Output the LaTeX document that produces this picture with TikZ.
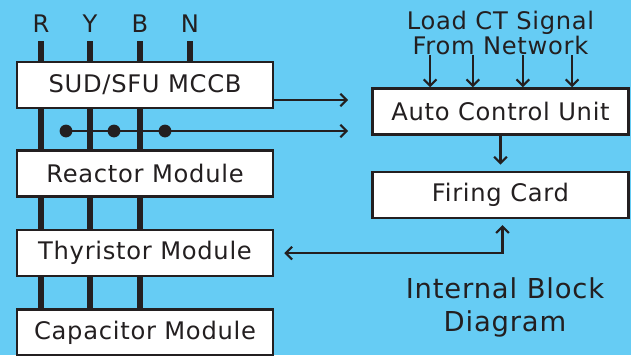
\documentclass[tikz,border=0pt]{standalone}
\usepackage{fontspec}
\setmainfont[LetterSpace=3]{DejaVu Sans}
\usepackage{xcolor}
\usetikzlibrary{arrows.meta}
\usetikzlibrary{positioning}

\definecolor{panel}{HTML}{66CCF4}
\definecolor{ink}{HTML}{231F20}

\tikzstyle{block} = [rectangle, draw=ink, fill=white, line width=1.8pt,
    minimum width=6.4cm, minimum height=1.15cm, inner sep=0pt, text=ink,
    font=\fontsize{17.2}{18}\selectfont]
\tikzstyle{phase} = [text=ink, inner sep=0pt, font=\fontsize{17.2}{18}\selectfont]
\tikzstyle{bus} = [draw=ink, line width=3.6pt]
\tikzstyle{line} = [draw=ink, line width=1.5pt, -{Straight Barb[length=4.5pt,width=9pt]}]

\begin{document}
\begin{tikzpicture}[x=0.025cm,y=-0.025cm]

\useasboundingbox (0,0) rectangle (631,355);
\clip (0,0) rectangle (631,355);
\fill[panel] (0,0) rectangle (631,355);

% panel stack
\node [block] (mccb) at (145,85) {SUD/SFU MCCB};
\node [block, below=1.0cm of mccb] (reactor) {Reactor Module};
\node [block, below=0.775cm of reactor] (thyristor) {Thyristor Module};
\node [block, below=0.775cm of thyristor] (capacitor) {Capacitor Module};

% control side
\node [block] (ctrl) at (500.5,111.5) {Auto Control Unit};
\node [block, below=0.87cm of ctrl] (firing) {Firing Card};
\node [phase, align=center, above=0.8cm of ctrl] (load) {Load CT Signal\\From Network};

\node [phase, font=\fontsize{19.5}{23.5}\selectfont, align=center] (title) at (505,307) {Internal Block\\Diagram};

% supply phases
\node [phase] (R) at (41,24) {R};
\node [phase] (Y) at (90,24) {Y};
\node [phase] (B) at (140,24) {B};
\node [phase] (N) at (190,24) {N};

\foreach \p in {R,Y,B,N}
  \draw[bus] ([yshift=-0.2cm]\p.south) -- (\p.south |- mccb.north);
\foreach \p in {R,Y,B} {
  \draw[bus] (\p.south |- mccb.south) -- (\p.south |- reactor.north);
  \draw[bus] (\p.south |- reactor.south) -- (\p.south |- thyristor.north);
  \draw[bus] (\p.south |- thyristor.south) -- (\p.south |- capacitor.north);
}

% CT taps on the line side
\coordinate (tap) at (66,131);
\draw[line, shorten >=0.575cm] (tap) -- (tap -| ctrl.west);
\foreach \x in {66,114,165}
  \fill[ink] (\x,131) circle (0.16cm);

\coordinate (trip) at ([yshift=-0.375cm]mccb.east);
\draw[line, shorten >=0.575cm] (trip) -- (trip -| ctrl.west);

\foreach \dx in {-1.76,-0.69,0.56,1.79}
  \draw[line] ([xshift=\dx cm]ctrl.north |- load.south) -- ([xshift=\dx cm]ctrl.north);

\draw[line, shorten >=0.15cm] (ctrl) -- (firing);
\draw[line, {Straight Barb[length=4.5pt,width=9pt]}-{Straight Barb[length=4.5pt,width=9pt]},
    shorten <=0.25cm, shorten >=0.15cm] (thyristor.east) -| ([xshift=0.05cm]firing.south);

\end{tikzpicture}
\end{document}
